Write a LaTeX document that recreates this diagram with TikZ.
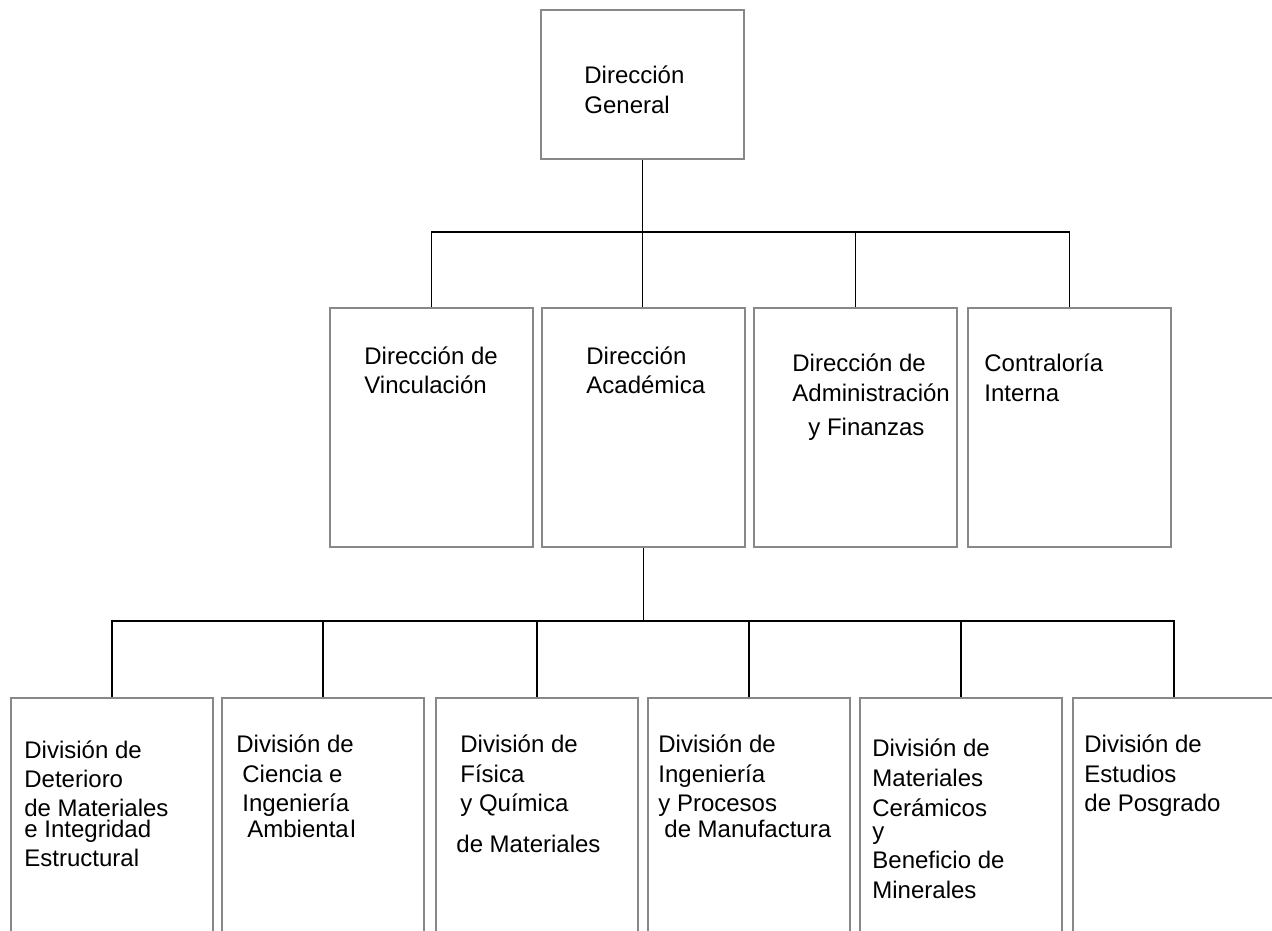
\documentclass[tikz,border=0pt]{standalone}
\usepackage{fontspec}
\setmainfont{Liberation Sans}
\usetikzlibrary{positioning}
\definecolor{OrgFrame}{HTML}{888888}

\begin{document}
\begin{tikzpicture}[x=0.5pt,y=-0.5pt,
    node distance=4.2pt,
    orgbox/.style={draw=OrgFrame,line width=0.8pt,inner sep=0pt,minimum width=101.5pt},
    dirbox/.style={orgbox,minimum height=119.5pt},
    divbox/.style={orgbox,minimum width=101pt,minimum height=130pt},
    txt/.style={inner sep=0pt,anchor=base west,align=left,font=\fontsize{12}{14.5}\selectfont},
    link/.style={line width=0.8pt,draw=black}
  ]
    \useasboundingbox (0,0) rectangle (1272,930);
    \clip (0,0) rectangle (1272,930);
    % top
    \node[orgbox,minimum height=74.5pt,anchor=north] (dg) at (642.5,9) {};
    % second level
    \node[dirbox,anchor=north west] (vinc) at (329,307) {};
    \node[dirbox,right=3.7pt of vinc] (acad) {};
    \node[dirbox,right=3.7pt of acad] (admin) {};
    \node[dirbox,right=4.7pt of admin] (contr) {};
    % divisions
    \node[divbox,anchor=north west] (d1) at (10,697) {};
    \node[divbox,right=3.7pt of d1] (d2) {};
    \node[divbox,right=5.2pt of d2] (d3) {};
    \node[divbox,right=of d3] (d4) {};
    \node[divbox,right=of d4] (d5) {};
    \node[divbox,right=4.7pt of d5] (d6) {};
    % texts (placed at the baseline of their last line)
    \node[txt] (dg-t) at (584,114) {Dirección\\[0.5pt]General};
    \node[txt] (vinc-t) at (364,393) {Dirección de\\[-0.5pt]Vinculación};
    \node[txt] (acad-t) at (586,393) {Dirección\\[-0.5pt]Académica};
    \node[txt] (admin-t) at (792,435) {Dirección de\\[0.5pt]Administración\\[2.5pt]\hspace*{8pt}y Finanzas};
    \node[txt] (contr-t) at (984,401) {Contraloría\\[0.5pt]Interna};
    \node[txt] (d1-t) at (24,866) {División de\\Deterioro\\de Materiales\\[-4pt]e Integridad\\[0pt]Estructural};
    \node[txt] (d2-t) at (236,837) {División de\\[0.5pt]\hspace*{3pt}Ciencia e\\\hspace*{3pt}Ingeniería\\[-1.5pt]\hspace*{5.5pt}Ambienta\kern0.8pt l};
    \node[txt] (d3-t) at (456,852) {\hspace*{2pt}División de\\[0.5pt]\hspace*{2pt}Física\\\hspace*{2pt}y Química\\[6pt]de Materiales};
    \node[txt] (d4-t) at (658,837) {División de\\[0.5pt]Ingeniería\\y Procesos\\[-1.5pt]\hspace*{3pt}de Manufactura};
    \node[txt] (d5-t) at (872,898) {División de\\[0.5pt]Materiales\\[0.5pt]Cerámicos\\[-3pt]y\\Beneficio de\\[0.5pt]Minerales};
    \node[txt] (d6-t) at (1084,811) {División de\\[0.5pt]Estudios\\de Posgrado};
    % connectors
    \coordinate (lvl1) at (0,232);
    \coordinate (lvl2) at (0,621);
    \coordinate (bar1) at (dg.south |- lvl1);
    \coordinate (bar2) at (acad.south |- lvl2);
    \draw[link] (dg.south) -- (dg.south |- acad.north);
    \draw[link] (vinc.north) |- (bar1) -| (contr.north);
    \draw[link] (bar1) -| (admin.north);
    \draw[link] (acad.south) -- (bar2);
    \draw[link] (d1.north) |- (bar2) -| (d6.north);
    \foreach \n in {d2,d3,d4,d5}
      \draw[link] (\n.north) -- (\n.north |- lvl2);
\end{tikzpicture}
\end{document}
